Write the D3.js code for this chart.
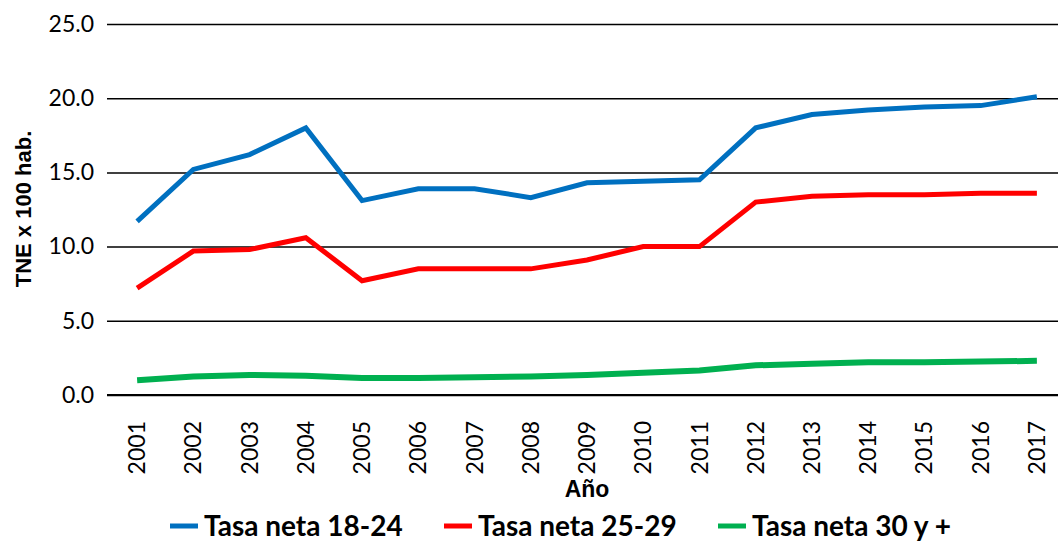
<!DOCTYPE html>
<html><head><meta charset="utf-8">
<script src="https://cdn.jsdelivr.net/npm/d3@7"></script>
<style>body{margin:0;background:#fff;} svg{display:block;font-family:Lato,"Open Sans",sans-serif;}</style>
</head><body><svg id="c" width="1058" height="543"></svg>
<script>
const years = ["2001","2002","2003","2004","2005","2006","2007","2008","2009","2010","2011","2012","2013","2014","2015","2016","2017"];
const tasa1824 = [11.7,15.2,16.2,18.0,13.1,13.9,13.9,13.3,14.3,14.4,14.5,18.0,18.9,19.2,19.4,19.5,20.1];
const tasa2529 = [7.2,9.7,9.8,10.6,7.7,8.5,8.5,8.5,9.1,10.0,10.0,13.0,13.4,13.5,13.5,13.6,13.6];
const tasa30 = [1.0,1.25,1.35,1.3,1.15,1.15,1.2,1.25,1.35,1.5,1.65,2.0,2.1,2.2,2.2,2.25,2.3];
const yTicks = [0,5,10,15,20,25];
const seriesNames = ["Tasa neta 18-24","Tasa neta 25-29","Tasa neta 30 y +"];
const colors = ["#0070C0","#FF0000","#00B050"];

const svg = d3.select("#c");
const x = d3.scaleBand().domain(years).range([109,1065]);
const y = d3.scaleLinear().domain([0,25]).range([395,24]);

// gridlines
const gy = svg.append("g").attr("transform","translate(107,0)")
  .call(d3.axisLeft(y).tickValues(yTicks).tickSize(-960).tickFormat(d=>d3.format(".1f")(d)));
gy.select(".domain").remove();
gy.selectAll(".tick line").attr("stroke","#000").attr("stroke-width",1.5);
gy.selectAll(".tick text").attr("x",-13).attr("font-size",23).attr("fill","#000").style("font-family","Lato");

// x axis
const gx = svg.append("g").attr("transform","translate(0,395)")
  .call(d3.axisBottom(x).tickSize(0));
gx.select(".domain").remove();
gx.selectAll(".tick text").attr("font-size",23).attr("fill","#000").style("font-family","Lato")
  .attr("transform","rotate(-90)").attr("text-anchor","end").attr("dy","0.35em").attr("y",0).attr("x",-26);
svg.append("line").attr("x1",107).attr("x2",1058).attr("y1",y(0)).attr("y2",y(0)).attr("stroke","#000").attr("stroke-width",2);

const data = [tasa1824,tasa2529,tasa30];
const widths = [5,5,6];
const line = d3.line().x((d,i)=>x(years[i])+x.bandwidth()/2).y(d=>y(d));
data.forEach((s,k)=>{
  svg.append("path").datum(s).attr("d",line).attr("fill","none")
    .attr("stroke",colors[k]).attr("stroke-width",widths[k]).attr("stroke-linejoin","miter");
});

// axis titles
svg.append("text").attr("transform","translate(31,209) rotate(-90)").attr("text-anchor","middle")
  .attr("font-size",22).attr("font-weight","bold").style("font-family","'Liberation Sans',Arial,sans-serif").text("TNE x 100 hab.");
svg.append("text").attr("x",587).attr("y",497).attr("text-anchor","middle")
  .attr("font-size",23).attr("font-weight","bold").style("font-family","'Liberation Sans',Arial,sans-serif").text("Año");

// legend
const lx = [170,444,718];
seriesNames.forEach((n,k)=>{
  const g = svg.append("g").attr("transform",`translate(${lx[k]},536)`);
  g.append("line").attr("x1",0).attr("x2",28).attr("y1",-10).attr("y2",-10).attr("stroke",colors[k]).attr("stroke-width",5);
  g.append("text").attr("x",34).attr("y",0).attr("font-size",28).attr("font-weight","bold").text(n);
});
</script></body></html>
